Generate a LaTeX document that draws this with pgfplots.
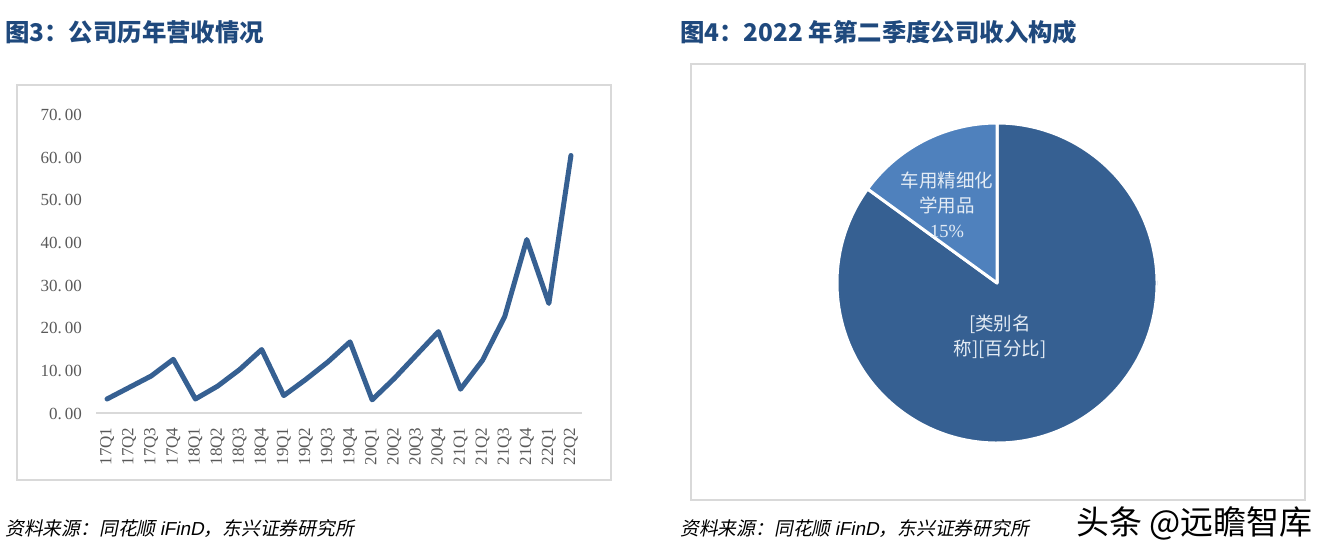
\documentclass[border=0pt]{standalone}
\usepackage{fontspec}
\usepackage{pgfplots}
\pgfplotsset{compat=1.18}
\setmainfont{Noto Sans CJK SC}
\newfontfamily\cjk{Noto Sans CJK SC}
\newfontfamily\cjkit{Noto Sans CJK SC}[FakeSlant=0.2]
\newfontfamily\arialit{Liberation Sans}[FakeSlant=0.2]
\newfontfamily\numfont{Liberation Serif}
\definecolor{titleblue}{HTML}{1F497D}
\definecolor{lineblue}{HTML}{366092}
\definecolor{pielight}{HTML}{4F81BD}
\definecolor{framegray}{HTML}{D9D9D9}
\definecolor{ticktext}{HTML}{595959}
\definecolor{pietext}{HTML}{E4ECF5}
\begin{document}
\begin{tikzpicture}[x=1pt,y=1pt]
\path (0,0) rectangle (1334,557);
% frames
\draw[framegray, line width=2pt] (16.5,77) rectangle (611,472);
\draw[framegray, line width=2pt] (691,57) rectangle (1305,493);
% titles
\node[anchor=base west, inner sep=0pt, text=titleblue, font=\cjk\bfseries\fontsize{24.4}{24}\selectfont] at (5,515) {图3：公司历年营收情况};
\node[anchor=base west, inner sep=0pt, text=titleblue, font=\cjk\bfseries\fontsize{24.4}{24}\selectfont] at (680,515) {图4：2022 年第二季度公司收入构成};
% sources
\node[anchor=base west, inner sep=0pt, font=\cjkit\fontsize{18.8}{18}\selectfont] at (5,21) {资料来源：同花顺 {\arialit iFinD}，东兴证券研究所};
\node[anchor=base west, inner sep=0pt, font=\cjkit\fontsize{18.8}{18}\selectfont] at (680,21) {资料来源：同花顺 {\arialit iFinD}，东兴证券研究所};
\node[anchor=base west, inner sep=0pt, font=\cjk\fontsize{33}{33}\selectfont] at (1076,22) {头条 @远瞻智库};
% line chart
\begin{axis}[
  at={(96pt,143.5pt)}, anchor=south west, scale only axis,
  width=486pt, height=298.5pt,
  xmin=-0.5, xmax=21.5, ymin=0, ymax=70,
  axis x line*=bottom, axis y line*=left,
  x axis line style={draw=framegray, line width=2pt, -},
  y axis line style={draw=none},
  major tick length=0pt,
  xtick={0,...,21},
  xticklabels={17Q1,17Q2,17Q3,17Q4,18Q1,18Q2,18Q3,18Q4,19Q1,19Q2,19Q3,19Q4,20Q1,20Q2,20Q3,20Q4,21Q1,21Q2,21Q3,21Q4,22Q1,22Q2},
  ytick={0,10,20,30,40,50,60,70},
  yticklabels={0.\,00,10.\,00,20.\,00,30.\,00,40.\,00,50.\,00,60.\,00,70.\,00},
  tick label style={font=\numfont\fontsize{17}{17}\selectfont, text=ticktext, inner sep=0pt},
  x tick label style={rotate=90, anchor=east},
  xticklabel shift=14pt, yticklabel shift=14pt,
]
\addplot[lineblue, line width=5pt, line join=round, line cap=round] coordinates {
(0,3.4) (1,6.1) (2,8.8) (3,12.7) (4,3.4) (5,6.4) (6,10.3) (7,15.0) (8,4.2) (9,8.0) (10,12.1) (11,16.8)
(12,3.2) (13,8.2) (14,13.7) (15,19.2) (16,5.7) (17,12.5) (18,22.7) (19,40.8) (20,25.8) (21,60.5)};
\end{axis}
% pie chart
\begin{axis}[
  at={(997pt,274pt)}, anchor=center, scale only axis,
  width=320pt, height=320pt,
  xmin=-1, xmax=1, ymin=-1, ymax=1, hide axis,
]
% 85% slice and 15% slice
\filldraw[fill=lineblue, draw=white, line width=3pt, line join=round] (axis cs:0,0) -- ++(144:160pt) arc[start angle=144, end angle=450, radius=160pt] -- cycle;
\filldraw[fill=pielight, draw=white, line width=3pt, line join=round] (axis cs:0,0) -- ++(90:160pt) arc[start angle=90, end angle=144, radius=160pt] -- cycle;
\node[align=center, text=pietext, font=\cjk\fontsize{18.5}{25}\selectfont] at (axis cs:-0.3125,0.4875) {车用精细化\\学用品\\{\numfont 15\%}};
\node[align=center, text=pietext, font=\cjk\fontsize{18.5}{25}\selectfont] at (axis cs:0.019,-0.3375) {[类别名\\称][百分比]};
\end{axis}
\end{tikzpicture}
\end{document}
